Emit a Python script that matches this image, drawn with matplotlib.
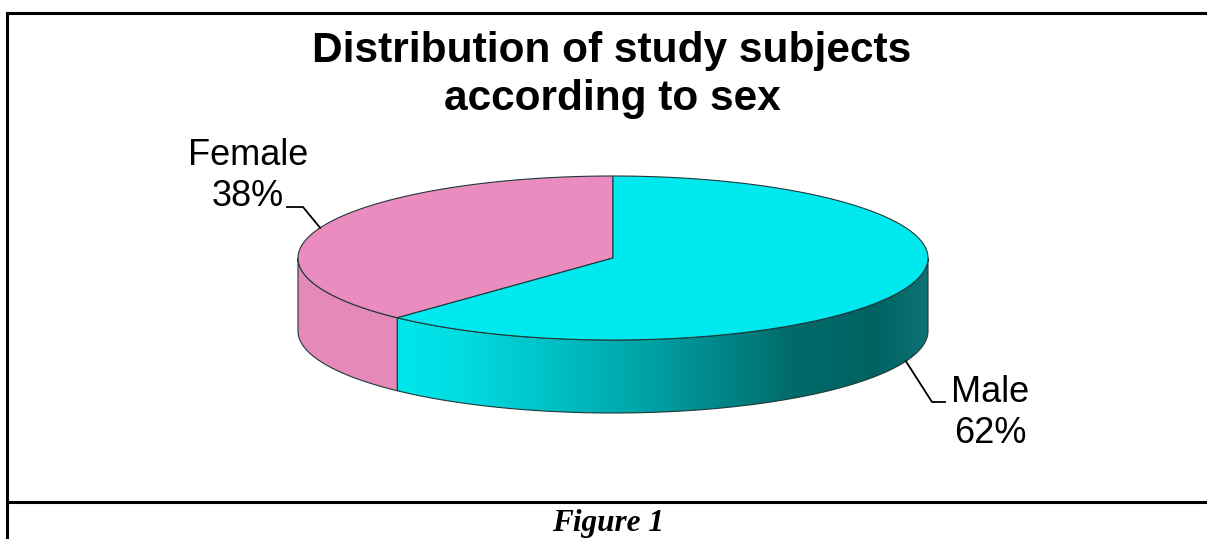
import numpy as np
import matplotlib.pyplot as plt
from matplotlib.patches import Polygon
from matplotlib.colors import LinearSegmentedColormap

labels = ['Female', 'Male']
shares = [38, 62]
top_colors = ['#EB8CC0', '#00E9EF']
side_colors = ['#E589BA', None]  # Male side gets a gradient

title_lines = ['Distribution of study subjects', 'according to sex']
caption = 'Figure 1'

W, H = 1207, 539
cx, cy, a, b, depth = 613, 258, 315, 82, 73
edge = '#203838'


def rim(t):
    r = np.radians(t)
    return cx + a * np.cos(r), cy - b * np.sin(r)


fig = plt.figure(figsize=(W / 100, H / 100), dpi=100)
ax = fig.add_axes([0, 0, 1, 1])

# wedge angles, counter-clockwise from 12 o'clock
bounds = [90.0]
for s in shares:
    bounds.append(bounds[-1] + 360.0 * s / sum(shares))

# side walls (front half only: 180..360 deg)
side_cmap = LinearSegmentedColormap.from_list('side', [
    (0.0, '#00E6EC'), (0.12, '#00DCE2'), (0.45, '#00A6AA'),
    (0.75, '#006A6A'), (0.9, '#006263'), (1.0, '#0C7274')])
for i in range(len(shares)):
    t0, t1 = max(bounds[i], 180.0), min(bounds[i + 1], 360.0)
    if t1 <= t0:
        continue
    ts = np.linspace(t0, t1, 200)
    xs, ys = rim(ts)
    pts = np.vstack([np.column_stack([xs, ys]),
                     np.column_stack([xs[::-1], ys[::-1] + depth])])
    if side_colors[i] is not None:
        ax.add_patch(Polygon(pts, closed=True, facecolor=side_colors[i],
                             edgecolor=edge, lw=0.8, zorder=2))
    else:
        poly = Polygon(pts, closed=True, facecolor='none', edgecolor=edge,
                       lw=0.8, zorder=3)
        ax.add_patch(poly)
        grad = np.linspace(0, 1, 256).reshape(1, -1)
        im = ax.imshow(grad, cmap=side_cmap, aspect='auto', zorder=2,
                       extent=(xs.min(), xs.max(), ys.max() + depth, ys.min()))
        im.set_clip_path(poly)

# top face
for i in range(len(shares)):
    ts = np.linspace(bounds[i], bounds[i + 1], 300)
    xs, ys = rim(ts)
    pts = np.vstack([[cx, cy], np.column_stack([xs, ys])])
    ax.add_patch(Polygon(pts, closed=True, facecolor=top_colors[i],
                         edgecolor=edge, lw=0.8, zorder=4))

# labels with leader lines
lbl = dict(ha='center', va='baseline', fontsize=26, family='Liberation Sans')

mid_f = (bounds[0] + bounds[1]) / 2
px, py = rim(mid_f)
ax.plot([287, 303, px], [207, 207, py], color='black', lw=1.3, zorder=5)
ax.text(248, 165, labels[0], **lbl)
ax.text(248, 206, f'{shares[0]}%', **lbl)

mid_m = (bounds[1] + bounds[2]) / 2
px, py = rim(mid_m)
ax.plot([px, 932, 945], [py + depth, 402, 402], color='black', lw=1.3, zorder=5)
ax.text(990, 402, labels[1], **lbl)
ax.text(990, 443, f'{shares[1]}%', **lbl)

# title
for line, y in zip(title_lines, [62, 110]):
    ax.text(612, y, line, ha='center', va='baseline', fontsize=30.5,
            fontweight='bold', family='Liberation Sans')

# frame and caption
ax.plot([7, 7], [13, H], color='black', lw=2.2)
ax.plot([7, W], [13, 13], color='black', lw=2.2)
ax.plot([7, W], [502, 502], color='black', lw=2.2)
ax.text(608, 531, caption, ha='center', va='baseline', fontsize=22.5,
        fontweight='bold', fontstyle='italic', family='Liberation Serif')

ax.set_xlim(0, W)
ax.set_ylim(H, 0)
ax.axis('off')
fig.savefig('out.png', dpi=100)
